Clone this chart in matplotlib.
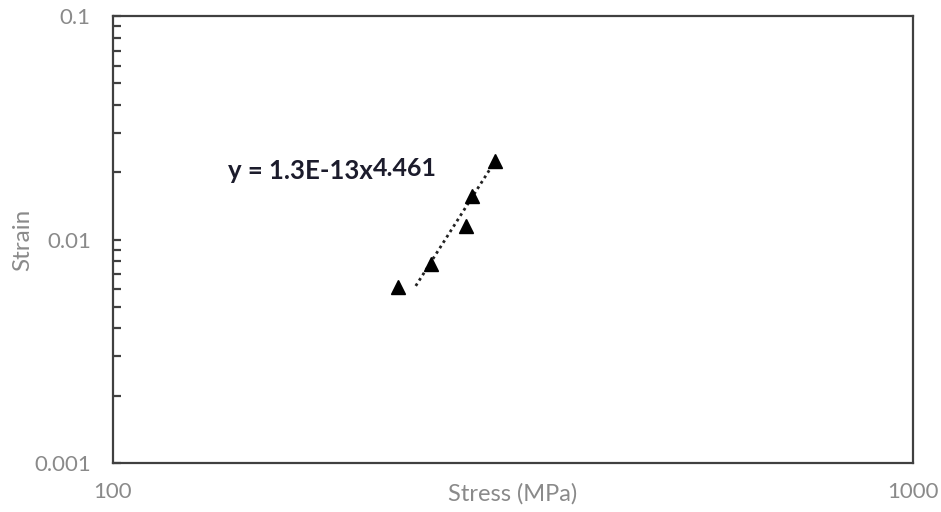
import numpy as np
import matplotlib.pyplot as plt
from matplotlib.ticker import FixedLocator, NullLocator

plt.rcParams['font.family'] = ['Lato', 'DejaVu Sans']

# Measured points
stress = [227, 250, 276, 281, 300]          # MPa
strain = [0.0061, 0.0078, 0.0115, 0.0156, 0.0224]

# Power-law trendline (end points on the fitted line)
trend_stress = [239, 300]
trend_strain = [0.0062, 0.0223]
trend_text = "y = 1.3E-13x"
trend_power = "4.461"

x_ticks = [100, 1000]
x_labels = ["100", "1000"]
y_ticks = [0.001, 0.01, 0.1]
y_labels = ["0.001", "0.01", "0.1"]

label_grey = '#8a8a8a'
frame_grey = '#404040'

fig = plt.figure(figsize=(9.41, 5.12), dpi=100)
ax = fig.add_axes([0.1201, 0.0957, 0.8502, 0.873])

ax.set_xscale('log')
ax.set_yscale('log')
ax.set_xlim(100, 1000)
ax.set_ylim(0.001, 0.1)

ax.plot(trend_stress, trend_strain, linestyle=(0, (1, 1.3)), color='#222222',
        linewidth=2.0, zorder=2)
ax.plot(stress, strain, linestyle='none', marker='^', markersize=9.5,
        color='black', zorder=3)

# axes and ticks
for sp in ax.spines.values():
    sp.set_color(frame_grey)
    sp.set_linewidth(1.6)

ax.xaxis.set_major_locator(FixedLocator(x_ticks))
ax.set_xticklabels(x_labels)
ax.xaxis.set_minor_locator(NullLocator())
ax.yaxis.set_major_locator(FixedLocator(y_ticks))
ax.set_yticklabels(y_labels)
ax.yaxis.set_minor_locator(FixedLocator(
    [m * d for d in (0.001, 0.01) for m in range(2, 10)]))

ax.tick_params(axis='x', which='both', direction='in', length=0,
               pad=14, labelsize=16, labelcolor=label_grey)
ax.tick_params(axis='y', which='both', direction='in', length=6, width=1.6,
               color=frame_grey, pad=16, labelsize=16, labelcolor=label_grey)

ax.text(0.5, -0.07, "Stress (MPa)", transform=ax.transAxes,
        ha='center', va='center', fontsize=17, color=label_grey)
ax.text(-0.113, 0.5, "Strain", transform=ax.transAxes, rotation=90,
        ha='center', va='center', fontsize=17.5, color=label_grey)

# trendline equation
eq = ax.text(0.144, 0.635, trend_text, transform=ax.transAxes,
             ha='left', va='baseline', fontsize=18.5, fontweight='bold',
             color='#1c1c2c')
ax.annotate(trend_power, xy=(1, 0), xycoords=eq, xytext=(0, 5),
            textcoords='offset points', ha='left', va='baseline',
            fontsize=18, fontweight='bold', color='#1c1c2c')

fig.savefig("out.png", dpi=100)
